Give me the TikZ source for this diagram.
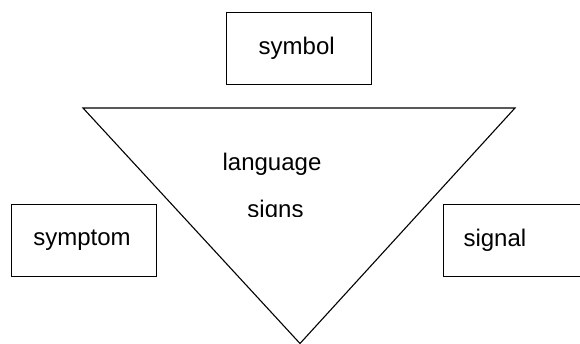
\documentclass[tikz,border=0pt]{standalone}
\usepackage{fontspec}
\setmainfont{Liberation Sans}
\newcommand\signfont{\fontsize{24pt}{28pt}\selectfont}
\begin{document}
\begin{tikzpicture}[x=1pt,y=1pt,
  signbox/.style={draw, line width=1.1pt, minimum width=145pt, minimum height=72pt, inner sep=0pt, font=\signfont},
  centretext/.style={inner sep=0pt, font=\signfont, anchor=base}]
\useasboundingbox (0,0) rectangle (580,344);
% the three kinds of sign
\node[signbox] (symbol) at (299.2,295.5) {\hspace*{-5pt}symbol};
\node[signbox, anchor=north west] (symptom) at (11,140) {\hspace*{-4pt}symptom};
\node[signbox, anchor=north west, text width=140pt, inner xsep=20.3pt, align=left] (signal) at (442.7,140) {signal};
% inverted triangle
\coordinate (tl) at (83,236);
\coordinate (tr) at (515,236);
\coordinate (bt) at (300,0.5);
\draw[line width=1.1pt, line join=miter] (tl) -- (tr) -- (bt) -- cycle;
% centre label, its second line cut by the text frame
\node[centretext] (lang) at (272,173) {language};
\begin{scope}
  \clip (150,127) rectangle (350,160);
  \node[centretext] (signs) at (275.5,126) {signs};
\end{scope}
\end{tikzpicture}
\end{document}
